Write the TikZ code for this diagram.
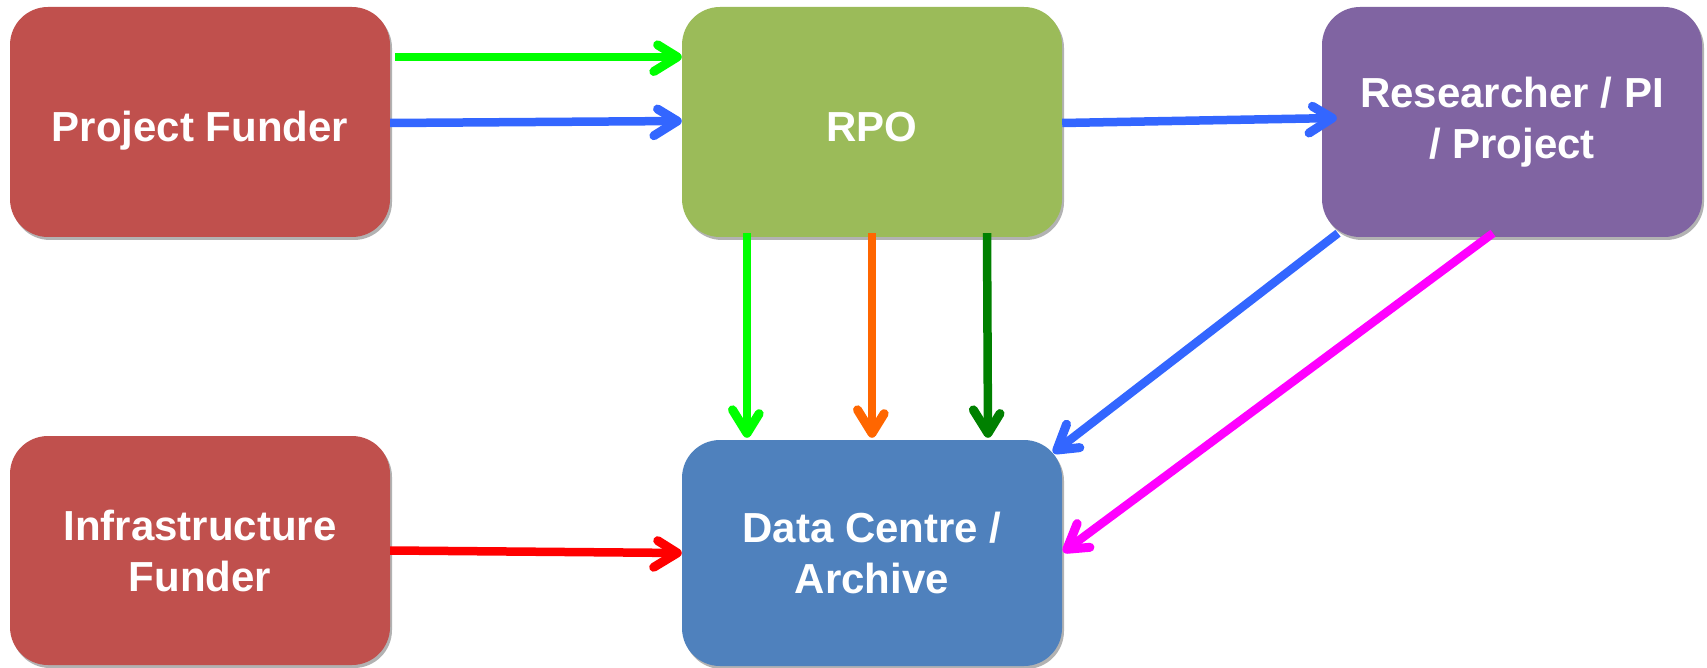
\documentclass[tikz,border=0pt]{standalone}
\usepackage{fontspec}
\setmainfont{Liberation Sans}
\usetikzlibrary{shadows,calc,decorations.markings}
\definecolor{boxred}{HTML}{C0504D}
\definecolor{boxgreen}{HTML}{9BBB59}
\definecolor{boxpurple}{HTML}{8064A2}
\definecolor{boxblue}{HTML}{4F81BD}
\definecolor{agreen}{HTML}{00FF00}
\definecolor{ablue}{HTML}{3366FF}
\definecolor{aorange}{HTML}{FF6600}
\definecolor{adkgreen}{HTML}{008000}
\definecolor{apink}{HTML}{FF00FF}
\definecolor{ared}{HTML}{FF0000}
\begin{document}
\begin{tikzpicture}[x=1pt,y=-1pt,
  box/.style={rounded corners=38pt, minimum width=380pt, minimum height=230pt,
    inner sep=0pt, text=white, align=center,
    font=\fontsize{42}{51}\selectfont\bfseries,
    drop shadow={shadow xshift=2pt, shadow yshift=-3pt, opacity=0.3, fill=black}},
  oneline/.style={text height=40pt, text depth=0pt},
  arr/.style={draw=#1, line width=8.5pt, shorten >=4.5pt,
    postaction={decorate, decoration={markings,
      mark=at position 1 with {\draw[draw=#1, line width=9pt, line cap=round, line join=round]
        (-28,14.5) -- (-4.5,0) -- (-28,-14.5);}}}},
]
\useasboundingbox (0,0) rectangle (1707,668);

\node[box, oneline, fill=boxred] (PF) at (200,122) {Project Funder};
\node[box, oneline, fill=boxgreen] (RPO) at (872,122) {RPO};
\node[box, fill=boxpurple] (RES) at (1512,122) {Researcher / PI\\/ Project};
\node[box, fill=boxred, minimum height=229pt] (IF) at (200,550.5) {Infrastructure\\Funder};
\node[box, fill=boxblue, minimum height=226pt] (DC) at (872,553) {Data Centre /\\Archive};

\draw[arr=agreen] ($(PF.east |- 0,57)+(5,0)$) -- (RPO.west |- 0,57);
\draw[arr=ablue] (PF.east |- 0,123) -- (RPO.west |- 0,121);
\draw[arr=ablue] (RPO.east |- 0,123) -- ($(RES.west |- 0,118)+(15,0)$);

\draw[arr=agreen] ($(747,0 |- RPO.south)+(0,-4)$) -- ($(747,0 |- DC.north)+(0,-2)$);
\draw[arr=aorange] ($(RPO.south)+(0,-4)$) -- ($(DC.north)+(0,-2)$);
\draw[arr=adkgreen] ($(987,0 |- RPO.south)+(0,-4)$) -- ($(988,0 |- DC.north)+(0,-2)$);

\draw[arr=ablue] ($(1338,0 |- RES.south)+(0,-4)$) -- ($(DC.north east)+(-9,13)$);
\draw[arr=apink] ($(1493,0 |- RES.south)+(0,-4)$) -- ($(DC.east)+(1,-1)$);

\draw[arr=ared] (IF.east) -- (DC.west);
\end{tikzpicture}
\end{document}
